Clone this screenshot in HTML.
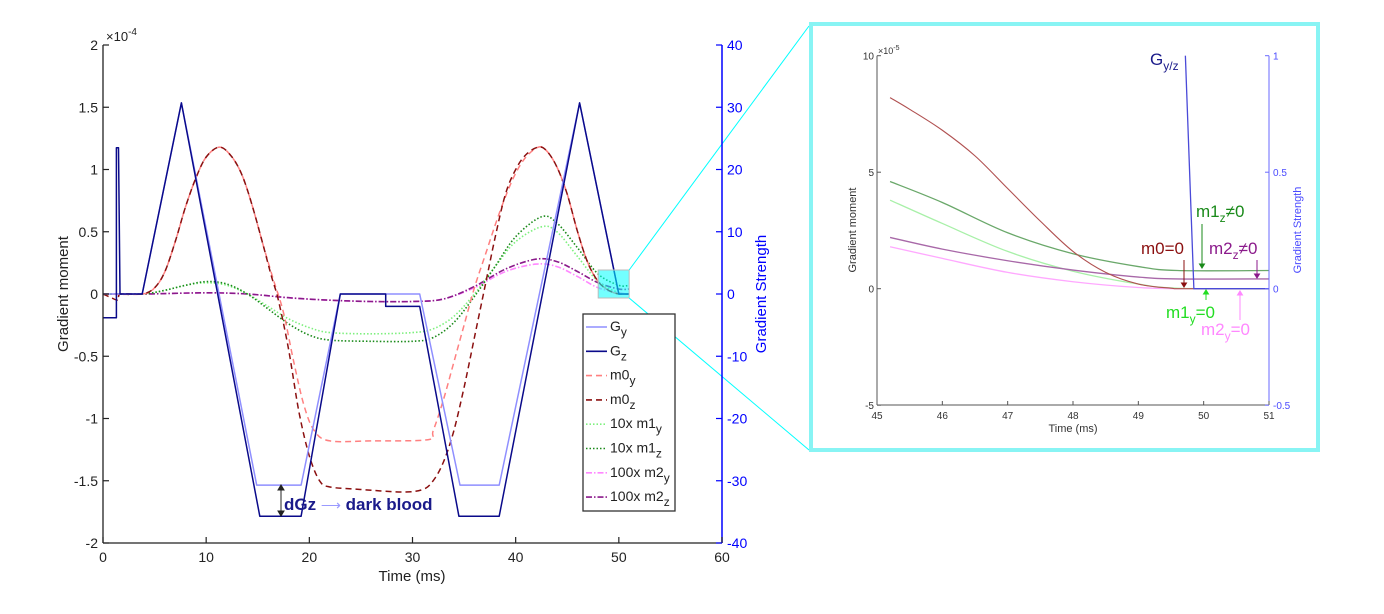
<!DOCTYPE html>
<html><head><meta charset="utf-8"><style>
body{margin:0;background:#fff;}
svg{display:block;font-family:"Liberation Sans",sans-serif;}
</style></head><body>
<svg id="fig" width="1384" height="614" viewBox="0 0 1384 614" xmlns="http://www.w3.org/2000/svg"></svg>
<script>
// ---------- main chart data (time ms; moments in 1e-4; gradients in mT/m) ----------
const gzT=[0,1.3,1.3,1.5,1.65,3.8,7.6,15.2,19.2,23,27.4,27.4,30.7,30.7,34.5,38.4,46.2,50,51];
const gzV=[-3.8,-3.8,23.5,23.5,0,0,30.7,-35.7,-35.7,0,0,-2,-2,-2,-35.7,-35.7,30.7,0,0];
const gyT=[0,3.8,7.6,14.9,19.2,23,30.7,34.6,38.4,46.2,50,51];
const gyV=[0,0,30.7,-30.7,-30.7,0,0,-30.7,-30.7,30.7,0,0];
const m0zT=[0,0.8,1.5,1.7,3.8,5,6,7,8,9,10,11.3,12.5,13.5,14.5,15.5,16.3,17,18,19,20,21,22,25,29,31,32,33,34,35,36,37,38,39,40,41,42.2,43,44,45,46,47,48,49,50,51];
const m0zV=[0,-0.03,-0.05,0,0,0.05,0.18,0.42,0.7,0.93,1.1,1.18,1.1,0.95,0.7,0.4,0.15,-0.05,-0.45,-0.95,-1.3,-1.5,-1.55,-1.57,-1.59,-1.57,-1.5,-1.35,-1.1,-0.75,-0.35,0.05,0.45,0.8,1.0,1.12,1.18,1.15,1.02,0.8,0.5,0.25,0.1,0.03,0,0];
const m0yT=[0,3.8,5,6,7,8,9,10,11.3,12.5,13.5,14.5,15.5,16.5,17.5,18.5,19.5,20.5,22,26,31.5,32,33,34,35,36,37,38,39,40,41,42.2,43,44,45,46,47,48,49,50,51];
const m0yV=[0,0,0.05,0.18,0.42,0.7,0.93,1.1,1.18,1.1,0.95,0.7,0.4,0.12,-0.15,-0.55,-0.9,-1.1,-1.18,-1.18,-1.17,-1.1,-0.85,-0.55,-0.25,0.05,0.3,0.55,0.78,0.97,1.1,1.18,1.15,1.02,0.8,0.5,0.25,0.1,0.03,0,0];
const m1yT=[0,3.8,6,8,10,12,14,16,18,20,22,26,30,32,34,36,38,40,42.5,44,46,48,50,51];
const m1yV=[0,0,0.03,0.07,0.09,0.07,0,-0.1,-0.2,-0.27,-0.31,-0.32,-0.31,-0.28,-0.18,0,0.22,0.42,0.54,0.5,0.3,0.1,0.01,0];
const m1zT=[0,3.8,6,8,10,12,14,16,18,20,22,26,30,32,34,36,38,40,42.5,44,46,48,50,51];
const m1zV=[0,0,0.03,0.07,0.1,0.08,0,-0.12,-0.24,-0.33,-0.37,-0.38,-0.38,-0.35,-0.23,-0.02,0.22,0.46,0.62,0.57,0.37,0.16,0.07,0.07];
const m2yT=[0,4,10,14,18,22,26,30,33,36,39,42,44,46,48,50,51];
const m2yV=[0,0,0.01,0,-0.03,-0.05,-0.06,-0.06,-0.04,0.05,0.18,0.24,0.22,0.14,0.05,0.01,0];
const m2zT=[0,4,10,14,18,22,26,30,33,36,39,42,44,46,48,50,51];
const m2zV=[0,0,0.01,0,-0.03,-0.05,-0.06,-0.06,-0.04,0.06,0.2,0.28,0.26,0.18,0.09,0.04,0.04];
const xTicks=[0,10,20,30,40,50,60];
const yTicks=[-2,-1.5,-1,-0.5,0,0.5,1,1.5,2];
const yTickLabels=["-2","-1.5","-1","-0.5","0","0.5","1","1.5","2"];
const y2Ticks=[-40,-30,-20,-10,0,10,20,30,40];
// ---------- inset data (moments in 1e-5) ----------
const iM0zT=[45.2,45.5,46,46.5,47,47.5,48,48.5,49,49.5,49.7,51];
const iM0zV=[8.2,7.7,6.8,5.7,4.3,2.9,1.6,0.7,0.2,0.02,0,0];
const iM1zT=[45.2,46,47,48,49,49.6,51];
const iM1zV=[4.6,3.7,2.4,1.5,0.95,0.78,0.78];
const iM1yT=[45.2,46,47,48,49,49.6,51];
const iM1yV=[3.8,2.8,1.6,0.75,0.2,0.02,0];
const iM2zT=[45.2,46,47,48,49,49.6,51];
const iM2zV=[2.2,1.7,1.2,0.8,0.5,0.42,0.42];
const iM2yT=[45.2,46,47,48,49,49.6,51];
const iM2yV=[1.8,1.3,0.7,0.3,0.05,0,0];
const iGT=[49.72,49.85,51];
const iGV=[1,0,0];
const ixTicks=[45,46,47,48,49,50,51];
const iyTicks=[-5,0,5,10];
const iy2Ticks=[-0.5,0,0.5,1];

const NS="http://www.w3.org/2000/svg";
const svg=document.getElementById('fig');
function mk(tag,attrs,parent){const e=document.createElementNS(NS,tag);for(const k in attrs)e.setAttribute(k,attrs[k]);(parent||svg).appendChild(e);return e;}
function txt(s,x,y,attrs,parent){const e=mk('text',Object.assign({x:x,y:y},attrs),parent);e.textContent=s;return e;}

const MX=t=>103+t*(722-103)/60;
const MY=v=>294-v*124.5;
const MY2=g=>294-g*6.225;

function linePath(T,V,fx,fy){return T.map((t,i)=>(i?'L':'M')+fx(t).toFixed(1)+' '+fy(V[i]).toFixed(1)).join(' ');}
function smoothPath(T,V,fx,fy){
  const P=T.map((t,i)=>[fx(t),fy(V[i])]);
  let d='M'+P[0][0].toFixed(1)+' '+P[0][1].toFixed(1);
  for(let i=0;i<P.length-1;i++){
    const p0=P[Math.max(0,i-1)],p1=P[i],p2=P[i+1],p3=P[Math.min(P.length-1,i+2)];
    const c1=[p1[0]+(p2[0]-p0[0])/6,p1[1]+(p2[1]-p0[1])/6];
    const c2=[p2[0]-(p3[0]-p1[0])/6,p2[1]-(p3[1]-p1[1])/6];
    d+=' C'+c1[0].toFixed(1)+' '+c1[1].toFixed(1)+' '+c2[0].toFixed(1)+' '+c2[1].toFixed(1)+' '+p2[0].toFixed(1)+' '+p2[1].toFixed(1);
  }
  return d;
}

const gMain=mk('g',{});


function series(name,d,color,w,dash,parent){
  const p=mk('path',{d:d,fill:'none',stroke:color,'stroke-width':w,'stroke-linejoin':'round'},parent);
  if(dash)p.setAttribute('stroke-dasharray',dash);
  
  
  return p;
}
series('series-m2y',smoothPath(m2yT,m2yV,MX,MY),'#ff88ff',1.6,'6 2 1.5 2',gMain);
series('series-m2z',smoothPath(m2zT,m2zV,MX,MY),'#8b1a8b',1.6,'6 2 1.5 2',gMain);
series('series-m1y',smoothPath(m1yT,m1yV,MX,MY),'#7ef07e',1.6,'1.5 2',gMain);
series('series-m1z',smoothPath(m1zT,m1zV,MX,MY),'#1a8a1a',1.6,'1.5 2',gMain);
series('series-m0y',smoothPath(m0yT,m0yV,MX,MY),'#ff8080',1.5,'6 4',gMain);
series('series-m0z',smoothPath(m0zT,m0zV,MX,MY),'#8b1010',1.5,'6 4',gMain);
series('series-gy',linePath(gyT,gyV,MX,MY2),'#8f8fff',1.5,null,gMain);
series('series-gz',linePath(gzT,gzV,MX,MY2),'#0a0a8a',1.5,null,gMain);

const hb=mk('rect',{x:MX(48),y:270,width:MX(51)-MX(48),height:28,fill:'#00ffff','fill-opacity':0.55,stroke:'#bbbbbb','stroke-width':1});


const cl1=mk('line',{x1:MX(51),y1:270,x2:809,y2:26,stroke:'#00ffff','stroke-width':1});


const cl2=mk('line',{x1:MX(51),y1:298,x2:809,y2:450,stroke:'#00ffff','stroke-width':1});



const ax=mk('g',{stroke:'#222','stroke-width':1.3});


mk('line',{x1:103,y1:45,x2:103,y2:543},ax);
mk('line',{x1:103,y1:543,x2:722,y2:543},ax);
const ax2=mk('line',{x1:722,y1:45,x2:722,y2:543,stroke:'#0000ff','stroke-width':1.5});


xTicks.forEach(t=>{
  mk('line',{x1:MX(t),y1:543,x2:MX(t),y2:537,stroke:'#222','stroke-width':1.2});
  const l=txt(String(t),MX(t),562,{'font-size':14,'text-anchor':'middle',fill:'#222'});
  
  
});
yTicks.forEach((v,i)=>{
  mk('line',{x1:103,y1:MY(v),x2:109,y2:MY(v),stroke:'#222','stroke-width':1.2});
  const l=txt(yTickLabels[i],98,MY(v)+5,{'font-size':14,'text-anchor':'end',fill:'#222'});
  
  
});
y2Ticks.forEach(g=>{
  mk('line',{x1:716,y1:MY2(g),x2:722,y2:MY2(g),stroke:'#0000ff','stroke-width':1.2});
  const l=txt(String(g),727,MY2(g)+5,{'font-size':14,fill:'#0000ff'});
  
  
});
</script>
<script>
(function(){
const NS="http://www.w3.org/2000/svg";const svg=document.getElementById('fig');
function t(s,a,name){const e=document.createElementNS(NS,'text');for(const k in a)e.setAttribute(k,a[k]);e.innerHTML=s;svg.appendChild(e);return e;}
t('×10<tspan dy="-6" font-size="10">-4</tspan>',{x:106,y:41,'font-size':13,fill:'#222'},'y-exponent');
t('Gradient moment',{x:68,y:294,'font-size':15,fill:'#222','text-anchor':'middle',transform:'rotate(-90 68 294)'},'y-axis-title');
t('Gradient Strength',{x:766,y:294,'font-size':15,fill:'#0000ff','text-anchor':'middle',transform:'rotate(-90 766 294)'},'y2-axis-title');
t('Time (ms)',{x:412,y:581,'font-size':15,fill:'#222','text-anchor':'middle'},'x-axis-title');
t('dGz <tspan fill="#9a9aff" font-weight="normal" font-size="14">⟶</tspan>  dark blood',{x:284,y:510,'font-size':17,'font-weight':'bold',fill:'#1a1a8a'},'dark-blood-annotation');
})();
</script>
<script>
(function(){
const NS="http://www.w3.org/2000/svg";const svg=document.getElementById('fig');
function mk(tag,a,p){const e=document.createElementNS(NS,tag);for(const k in a)e.setAttribute(k,a[k]);(p||svg).appendChild(e);return e;}
const da=mk('g',{stroke:'#222','stroke-width':1,fill:'#222'});


mk('line',{x1:281,y1:487,x2:281,y2:514},da);
mk('path',{d:'M278 490 L281 485 L284 490 Z'},da);
mk('path',{d:'M278 511 L281 516 L284 511 Z'},da);
const lg=mk('g',{});


mk('rect',{x:583,y:314,width:92,height:197,fill:'#fff',stroke:'#333','stroke-width':1.3},lg);
const items=[['G','y','#8f8fff',null],['G','z','#0a0a8a',null],['m0','y','#ff8080','6 4'],['m0','z','#8b1010','6 4'],['10x m1','y','#7ef07e','1.5 2'],['10x m1','z','#1a8a1a','1.5 2'],['100x m2','y','#ff88ff','6 2 1.5 2'],['100x m2','z','#8b1a8b','6 2 1.5 2']];
items.forEach((it,i)=>{
  const y=327+i*24.3;
  const g=mk('g',{},lg);
  
  
  const l=mk('line',{x1:586,y1:y,x2:607,y2:y,stroke:it[2],'stroke-width':1.6},g);
  if(it[3])l.setAttribute('stroke-dasharray',it[3]);
  const tx=mk('text',{x:610,y:y+4,'font-size':14,fill:'#222'},g);
  tx.innerHTML=it[0]+'<tspan dy="5" font-size="12">'+it[1]+'</tspan>';
});
})();
</script>
<script>
(function(){
const NS="http://www.w3.org/2000/svg";const svg=document.getElementById('fig');
function mk(tag,a,p){const e=document.createElementNS(NS,tag);for(const k in a)e.setAttribute(k,a[k]);(p||svg).appendChild(e);return e;}
const IX=t=>877+(t-45)*(1269-877)/6;
const IY=v=>288.7-v*(288.7-55.7)/10;
const IY2=g=>288.7-g*(288.7-55.7);
function smooth(T,V,fx,fy){const P=T.map((t,i)=>[fx(t),fy(V[i])]);let d='M'+P[0][0]+' '+P[0][1];
 for(let i=0;i<P.length-1;i++){const p0=P[Math.max(0,i-1)],p1=P[i],p2=P[i+1],p3=P[Math.min(P.length-1,i+2)];
 d+=' C'+(p1[0]+(p2[0]-p0[0])/6)+' '+(p1[1]+(p2[1]-p0[1])/6)+' '+(p2[0]-(p3[0]-p1[0])/6)+' '+(p2[1]-(p3[1]-p1[1])/6)+' '+p2[0]+' '+p2[1];}return d;}
function lin(T,V,fx,fy){return T.map((t,i)=>(i?'L':'M')+fx(t)+' '+fy(V[i])).join(' ');}
const fr=mk('rect',{x:811,y:24,width:507,height:426,fill:'#fff',stroke:'#88f4f4','stroke-width':4});


const gi=mk('g',{});


function s(name,d,c,w){const p=mk('path',{d:d,fill:'none',stroke:c,'stroke-width':w},gi);}
s('inset-m2y',smooth(iM2yT,iM2yV,IX,IY),'#ffa8ff',1.3);
s('inset-m1y',smooth(iM1yT,iM1yV,IX,IY),'#a8f0a8',1.3);
s('inset-m2z',smooth(iM2zT,iM2zV,IX,IY),'#a868a8',1.3);
s('inset-m1z',smooth(iM1zT,iM1zV,IX,IY),'#6aa86a',1.3);
s('inset-m0z',smooth(iM0zT,iM0zV,IX,IY),'#b05050',1.1);
s('inset-g',lin(iGT,iGV,IX,IY2),'#4a4ad8',1.3);
const a=mk('g',{stroke:'#555','stroke-width':1});


mk('line',{x1:877,y1:55.7,x2:877,y2:405},a);
mk('line',{x1:877,y1:405,x2:1269,y2:405},a);
mk('line',{x1:1269,y1:55.7,x2:1269,y2:405,stroke:'#6a6aff'},a);
function lab(s,x,y,at,name){const e=mk('text',Object.assign({x:x,y:y,'font-size':10},at));e.innerHTML=s;return e;}
ixTicks.forEach(t=>{mk('line',{x1:IX(t),y1:405,x2:IX(t),y2:401,stroke:'#555'});lab(String(t),IX(t),419,{'text-anchor':'middle',fill:'#333'},'inset-x-tick-label');});
iyTicks.forEach(v=>{mk('line',{x1:877,y1:IY(v),x2:881,y2:IY(v),stroke:'#555'});lab(String(v),874,IY(v)+4,{'text-anchor':'end',fill:'#333'},'inset-y-tick-label');});
iy2Ticks.forEach(g=>{mk('line',{x1:1265,y1:IY2(g),x2:1269,y2:IY2(g),stroke:'#6a6aff'});lab(String(g),1273,IY2(g)+4,{fill:'#4a4aff'},'inset-y2-tick-label');});
lab('×10<tspan dy="-4" font-size="7">-5</tspan>',878,54,{fill:'#333','font-size':9},'inset-y-exponent');
lab('Time (ms)',1073,432,{'text-anchor':'middle',fill:'#333','font-size':11},'inset-x-axis-title');
lab('Gradient moment',856,230,{'text-anchor':'middle',fill:'#333','font-size':11,transform:'rotate(-90 856 230)'},'inset-y-axis-title');
lab('Gradient Strength',1301,230,{'text-anchor':'middle',fill:'#4a4aff','font-size':11,transform:'rotate(-90 1301 230)'},'inset-y2-axis-title');
lab('G<tspan dy="5" font-size="12">y/z</tspan>',1150,65,{fill:'#1a1a8a','font-size':17},'gyz-label');
lab('m0=0',1141,254,{fill:'#8b1010','font-size':17},'m0-annotation');
lab('m1<tspan dy="5" font-size="12">z</tspan><tspan dy="-5">≠0</tspan>',1196,217,{fill:'#1a8a1a','font-size':17},'m1z-annotation');
lab('m2<tspan dy="5" font-size="12">z</tspan><tspan dy="-5">≠0</tspan>',1209,254,{fill:'#8b1a8b','font-size':17},'m2z-annotation');
lab('m1<tspan dy="5" font-size="12">y</tspan><tspan dy="-5">=0</tspan>',1166,318,{fill:'#22dd22','font-size':17},'m1y-annotation');
lab('m2<tspan dy="5" font-size="12">y</tspan><tspan dy="-5">=0</tspan>',1201,335,{fill:'#ff88ff','font-size':17},'m2y-annotation');
function arr(x,y1,y2,c,name){const g=mk('g',{stroke:c,fill:c,'stroke-width':1});
 mk('line',{x1:x,y1:y1,x2:x,y2:y2},g);const d=y2>y1?1:-1;mk('path',{d:'M'+(x-2.5)+' '+(y2-4*d)+' L'+x+' '+y2+' L'+(x+2.5)+' '+(y2-4*d)+' Z'},g);}
arr(1184,260,287,'#8b1010','m0-arrow');
arr(1202,224,268,'#1a8a1a','m1z-arrow');
arr(1257,260,278,'#8b1a8b','m2z-arrow');
arr(1206,300,290,'#22dd22','m1y-arrow');
arr(1240,320,291,'#ff88ff','m2y-arrow');
})();
</script>
</body></html>
